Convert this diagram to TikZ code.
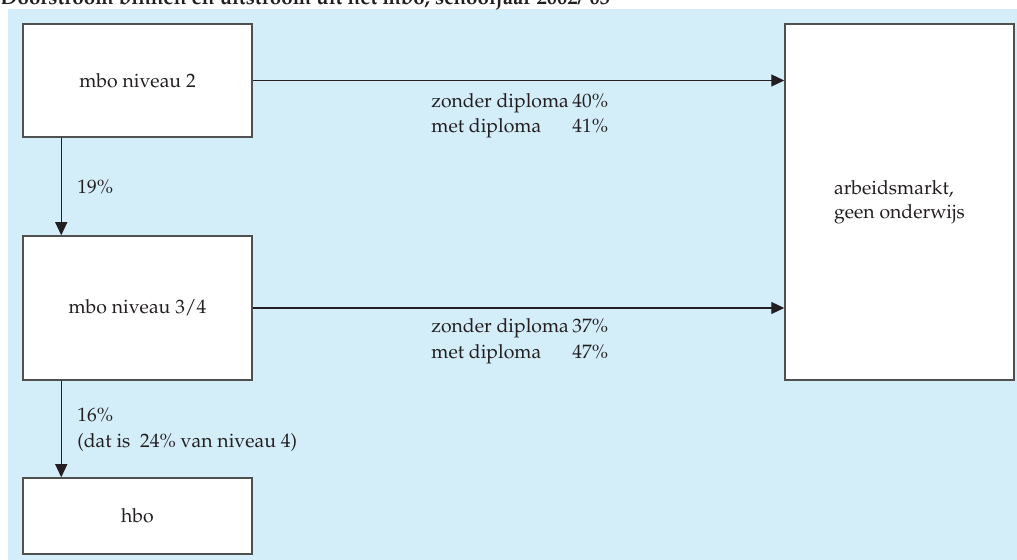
\documentclass[tikz,border=0pt]{standalone}
\usepackage[T1]{fontenc}
\usepackage{mathpazo}
\usetikzlibrary{arrows.meta}
\definecolor{bgblue}{HTML}{D3EDF9}
\definecolor{boxline}{HTML}{505050}
\definecolor{txt}{HTML}{231F20}
\tikzset{
  box/.style={draw=boxline, line width=0.75pt, fill=white, minimum width=114.5pt, inner sep=0pt, text=txt, font=\fontsize{9.7}{11.8}\selectfont},
  flow/.style={draw=txt, line width=0.55pt, -{Triangle[length=6.5pt,width=6pt]}},
  lbl/.style={anchor=base west, inner sep=0pt, text=txt, font=\fontsize{9.7}{12}\selectfont}
}
\begin{document}
\begin{tikzpicture}[x=0.5pt,y=-0.5pt]
\useasboundingbox (0,0) rectangle (1017,560);
\fill[bgblue] (8,9) rectangle (1017,560);
\node[anchor=base west, inner sep=0pt, text=txt, font=\fontsize{10.3}{13}\selectfont\bfseries] (title) at (0,5) {Doorstroom binnen en uitstroom uit het mbo, schooljaar 2002/'03};
\node[box, minimum height=56.5pt] (b1) at (137.5,80.5) {mbo niveau 2};
\node[box, minimum height=72pt] (b2) at (137.5,308) {mbo niveau 3/4};
\node[box, minimum height=38pt] (b3) at (137.5,516) {hbo};
\node[box, minimum height=178pt, align=left] (am) at (899.5,202) {arbeidsmarkt,\\geen onderwijs};
\draw[flow] (b1.east) -- (b1.east -| am.west);
\draw[flow] (b2.east) -- (b2.east -| am.west);
\draw[flow] ([xshift=19.5pt]b1.south west) -- ([xshift=19.5pt]b2.north west);
\draw[flow] ([xshift=19.5pt]b2.south west) -- ([xshift=19.5pt]b3.north west);
\node[lbl] (l1a) at (431,108) {\makebox[70.5pt][l]{zonder diploma}40\%};
\node[lbl] (l1b) at (431,133) {\makebox[70.5pt][l]{met diploma}41\%};
\node[lbl] (l2a) at (431,333) {\makebox[70.5pt][l]{zonder diploma}37\%};
\node[lbl] (l2b) at (431,359) {\makebox[70.5pt][l]{met diploma}47\%};
\node[lbl] (l3) at (77,194) {19\%};
\node[lbl] (l4a) at (77,422) {16\%};
\node[lbl] (l4b) at (77,448) {(dat is\ \ 24\% van niveau 4)};
\end{tikzpicture}
\end{document}
